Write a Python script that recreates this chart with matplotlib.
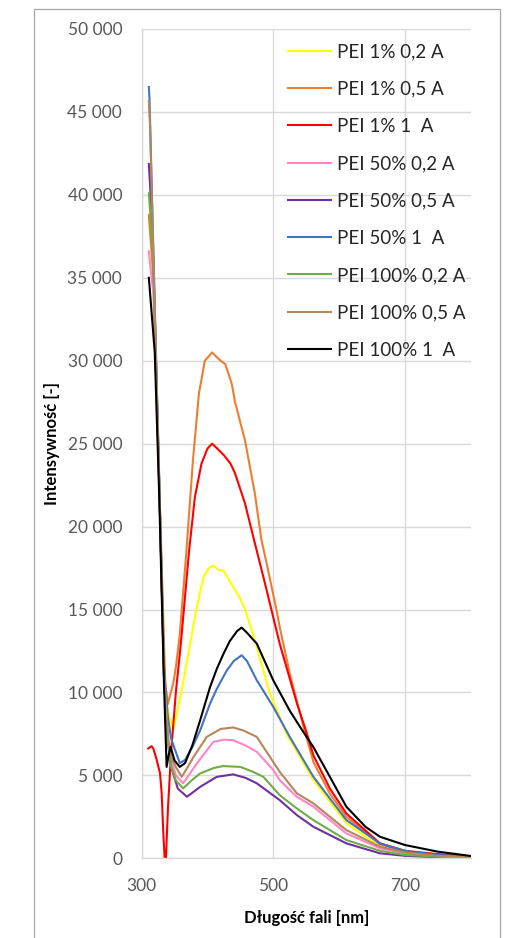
import matplotlib
matplotlib.use("Agg")
from matplotlib.figure import Figure
from matplotlib.patches import Rectangle
from matplotlib.ticker import FixedLocator, FuncFormatter, MultipleLocator

# wavelength [nm] / intensity pairs, one pair per series
WL_1_02 = [312, 318, 327, 334, 340, 343, 348, 355, 363, 373, 384, 394, 402, 409,
           416, 424, 431, 439, 448, 457, 466, 475, 495, 510, 520, 561, 611, 662,
           700, 750, 800]
I_1_02 = [36200, 34500, 22200, 11000, 8800, 8450, 7720, 9000, 10550, 12800, 15150,
          16950, 17500, 17660, 17400, 17360, 16900, 16350, 15800, 15000, 13900,
          12740, 9930, 8500, 7500, 4710, 2120, 700, 350, 150, 80]

WL_1_05 = [311, 312, 318, 327, 336, 340, 343, 348, 352, 358, 368, 378, 387, 396,
           403, 407, 412, 420, 427, 437, 442, 457, 472, 482, 490, 505, 510, 525,
           546, 561, 586, 611, 662, 700, 750, 800]
I_1_05 = [38800, 38200, 35000, 22200, 10500, 9300, 9800, 10550, 11500, 13500, 18500,
          24000, 28000, 30000, 30300, 30500, 30300, 30000, 29800, 28600, 27500, 25200,
          22000, 19200, 17760, 14950, 13900, 11140, 7920, 5800, 3900, 2500, 850, 400,
          220, 100]

WL_1_1 = [310, 315, 318, 323, 328, 330.5, 333, 335, 337, 340, 345, 352, 360, 372,
          381, 391, 400, 407, 415, 425, 435, 442, 457, 472, 485, 490, 510, 536, 551,
          561, 586, 611, 662, 700, 750, 800]
I_1_1 = [6620, 6760, 6600, 5920, 5120, 3910, 1500, 0, 0, 3000, 6500, 10000, 13100,
         18500, 21800, 23800, 24700, 25000, 24700, 24300, 23800, 23200, 21400, 19000,
         16950, 16150, 12900, 9330, 7530, 6200, 4200, 2700, 900, 450, 250, 120]

WL_50_02 = [311, 313, 318, 327, 334, 340, 345, 352, 363, 384, 409, 425, 439, 458,
            475, 500, 510, 536, 561, 611, 662, 700, 750, 800]
I_50_02 = [36600, 35800, 34000, 22200, 11000, 7000, 6000, 5000, 4520, 5720, 7020,
           7150, 7120, 6800, 6420, 5320, 4700, 3700, 3110, 1500, 600, 300, 120, 60]

WL_50_05 = [311, 313, 318, 327, 334, 340, 345, 355, 369, 389, 414, 439, 458, 475,
            510, 536, 561, 611, 662, 700, 750, 800]
I_50_05 = [41860, 40500, 35800, 22300, 11000, 7000, 5500, 4200, 3710, 4310, 4910,
           5060, 4850, 4520, 3500, 2600, 1900, 900, 300, 150, 60, 30]

WL_50_1 = [311, 312, 318, 327, 334, 340, 345, 351, 358, 366, 377, 389, 404, 414,
           429, 440, 452, 460, 475, 500, 525, 561, 611, 662, 700, 750, 800]
I_50_1 = [46500, 45800, 36500, 22500, 11500, 8500, 7200, 6520, 5740, 5930, 6700,
          7720, 9330, 10200, 11300, 11900, 12240, 11900, 10730, 9130, 7320, 4910,
          2300, 900, 450, 200, 100]

WL_100_02 = [311, 313, 318, 327, 334, 340, 345, 352, 363, 376, 389, 410, 424, 450,
             470, 485, 510, 536, 561, 611, 662, 700, 750, 800]
I_100_02 = [40100, 39000, 35500, 22200, 11000, 7000, 5500, 4700, 4210, 4700, 5120,
            5450, 5560, 5510, 5200, 4910, 3800, 3000, 2300, 1100, 450, 200, 100, 50]

WL_100_05 = [311, 313, 318, 327, 334, 340, 343, 352, 361, 370, 379, 399, 420, 439,
             455, 475, 500, 510, 536, 561, 611, 662, 700, 750, 800]
I_100_05 = [45650, 44000, 36000, 22300, 11000, 7500, 6320, 5500, 4910, 5500, 6120,
            7320, 7800, 7890, 7700, 7320, 5800, 5200, 3910, 3310, 1700, 700, 350,
            150, 80]

WL_100_1 = [311, 320, 327, 334, 338, 341, 344, 350, 358, 366, 377, 389, 404, 414,
            424, 434, 445, 452, 460, 475, 500, 525, 541, 551, 561, 586, 611, 640,
            662, 700, 750, 800]
I_100_1 = [35000, 30500, 21500, 10500, 5510, 6200, 6720, 5900, 5510, 5740, 6800,
           8330, 10330, 11400, 12300, 13100, 13700, 13910, 13600, 12940, 10730, 8900,
           7900, 7300, 6700, 4910, 3110, 1900, 1300, 800, 400, 140]

LABELS = ["PEI 1% 0,2 A", "PEI 1% 0,5 A", "PEI 1% 1  A",
          "PEI 50% 0,2 A", "PEI 50% 0,5 A", "PEI 50% 1  A",
          "PEI 100% 0,2 A", "PEI 100% 0,5 A", "PEI 100% 1  A"]
COLORS = ["#FFFF00", "#ED7D31", "#FF0000",
          "#FF85C8", "#7030A0", "#4472C4",
          "#70AD47", "#B5875A", "#000000"]
X_TICKS = [300, 500, 700]

SERIES = [(WL_1_02, I_1_02), (WL_1_05, I_1_05), (WL_1_1, I_1_1),
          (WL_50_02, I_50_02), (WL_50_05, I_50_05), (WL_50_1, I_50_1),
          (WL_100_02, I_100_02), (WL_100_05, I_100_05), (WL_100_1, I_100_1)]

W, H, DPI = 506, 938, 100
FONT = ["Lato", "DejaVu Sans"]
GRID = "#D9D9D9"


def main():
    fig = Figure(figsize=(W / DPI, H / DPI), dpi=DPI)
    fig.patch.set_facecolor("white")

    # outer chart frame (bottom edge is cut off in the reference)
    fig.add_artist(Rectangle((34 / W, -0.01), 466 / W, 1.01 - 9 / H,
                             transform=fig.transFigure, fill=False,
                             edgecolor="#A6A6A6", linewidth=0.9))

    ax = fig.add_axes([141.6 / W, (H - 858.3) / H, 329.2 / W, 829.3 / H])
    for (wl, inten), lab, col in zip(SERIES, LABELS, COLORS):
        ax.plot(wl, inten, color=col, linewidth=1.5, label=lab,
                solid_joinstyle="round")

    ax.set_xlim(300, 800)
    ax.set_ylim(0, 50000)
    ax.xaxis.set_major_locator(FixedLocator(X_TICKS))
    ax.yaxis.set_major_locator(MultipleLocator(5000))
    ax.yaxis.set_major_formatter(
        FuncFormatter(lambda v, _: f"{int(v):,}".replace(",", " ")))

    ax.set_axisbelow(True)
    ax.grid(True, color=GRID, linewidth=1.0)
    for side in ("top", "right"):
        ax.spines[side].set_visible(False)
    for side in ("left", "bottom"):
        ax.spines[side].set_color(GRID)
        ax.spines[side].set_linewidth(1.0)

    ax.tick_params(axis="both", length=0, labelsize=12.5, labelcolor="#595959")
    ax.tick_params(axis="y", pad=14)
    ax.tick_params(axis="x", pad=14)
    for t in ax.get_xticklabels() + ax.get_yticklabels():
        t.set_family(FONT)

    ax.set_xlabel("Długość fali [nm]", family=FONT, fontsize=12,
                  fontweight="bold", labelpad=12)
    ax.set_ylabel("Intensywność [-]", family=FONT, fontsize=12,
                  fontweight="bold", labelpad=5)

    leg = ax.legend(loc="upper left", bbox_to_anchor=(288.3 / W, 1 - 43.5 / H),
                    bbox_transform=fig.transFigure, frameon=False,
                    prop={"family": FONT, "size": 13.5}, handlelength=2.3,
                    handletextpad=0.3, labelspacing=1.08, borderpad=0,
                    borderaxespad=0)
    for t in leg.get_texts():
        t.set_color("#262626")

    fig.savefig("out.png", dpi=DPI)


if __name__ == "__main__":
    main()
